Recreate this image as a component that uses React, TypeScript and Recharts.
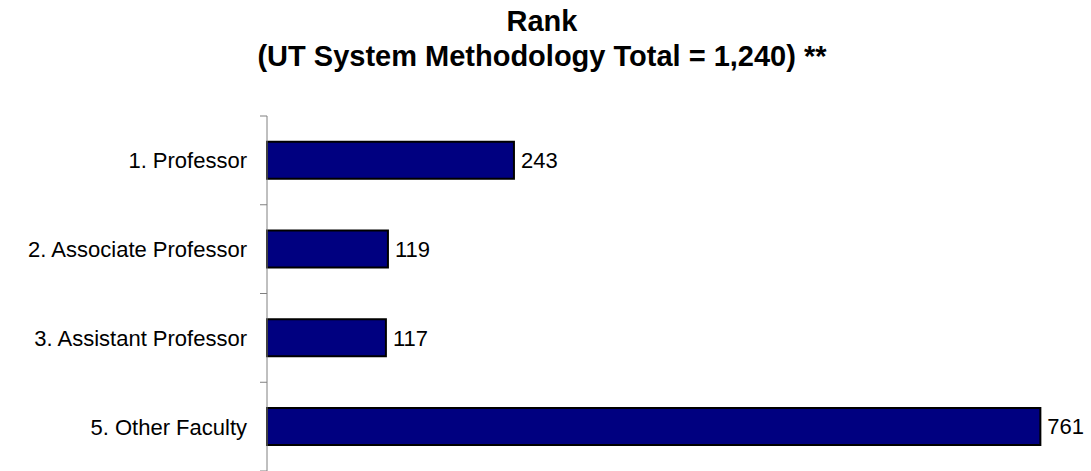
import React from 'react';
import { BarChart, Bar, XAxis, YAxis, LabelList } from 'recharts';

const categories = ['1. Professor', '2. Associate Professor', '3. Assistant Professor', '5. Other Faculty'];
const counts = [243, 119, 117, 761];

const data = categories.map((name, i) => ({ name, count: counts[i] }));

const FONT = '"Liberation Sans", Arial, sans-serif';
const TOP = 116;
const HEIGHT = 471;
const BAND = (HEIGHT - TOP) / categories.length;
const LABEL_GAP = 20;

const RankTick = (props: any) => {
    const { x, y, payload, index } = props;
    const axisX = x + LABEL_GAP;
    return (
        <g>
            <text x={x} y={y} dy={8} textAnchor="end" fontSize={22} fontFamily={FONT} fill="#000">
                {payload.value}
            </text>
            <line x1={axisX - 7} x2={axisX} y1={y - BAND / 2} y2={y - BAND / 2} stroke="#808080" />
            {index === categories.length - 1 && (
                <line x1={axisX - 7} x2={axisX} y1={y + BAND / 2} y2={y + BAND / 2} stroke="#808080" />
            )}
        </g>
    );
};

export default function App() {
    return (
        <div style={{ position: 'absolute', left: 0, top: 0, width: 1091, height: 471, background: '#fff', fontFamily: FONT }}>
            <div style={{ position: 'absolute', left: 0, top: 4, width: 1084, textAlign: 'center', fontWeight: 'bold', fontSize: 29, lineHeight: '35px' }}>
                Rank
                <br />
                (UT System Methodology Total = 1,240) **
            </div>
            <BarChart
                width={1091}
                height={HEIGHT}
                data={data}
                layout="vertical"
                margin={{ top: TOP, right: 11, bottom: 0, left: 0 }}
                barCategoryGap="29%"
            >
                <XAxis type="number" domain={[0, 800]} hide />
                <YAxis
                    type="category"
                    dataKey="name"
                    width={267}
                    tickLine={false}
                    axisLine={{ stroke: '#808080' }}
                    tickMargin={LABEL_GAP}
                    tickSize={0}
                    tick={<RankTick />}
                    interval={0}
                />
                <Bar dataKey="count" fill="#000080" stroke="#000" strokeWidth={2} isAnimationActive={false}>
                    <LabelList dataKey="count" position="right" offset={7} fontSize={22} fontFamily={FONT} fill="#000" />
                </Bar>
            </BarChart>
        </div>
    );
}
